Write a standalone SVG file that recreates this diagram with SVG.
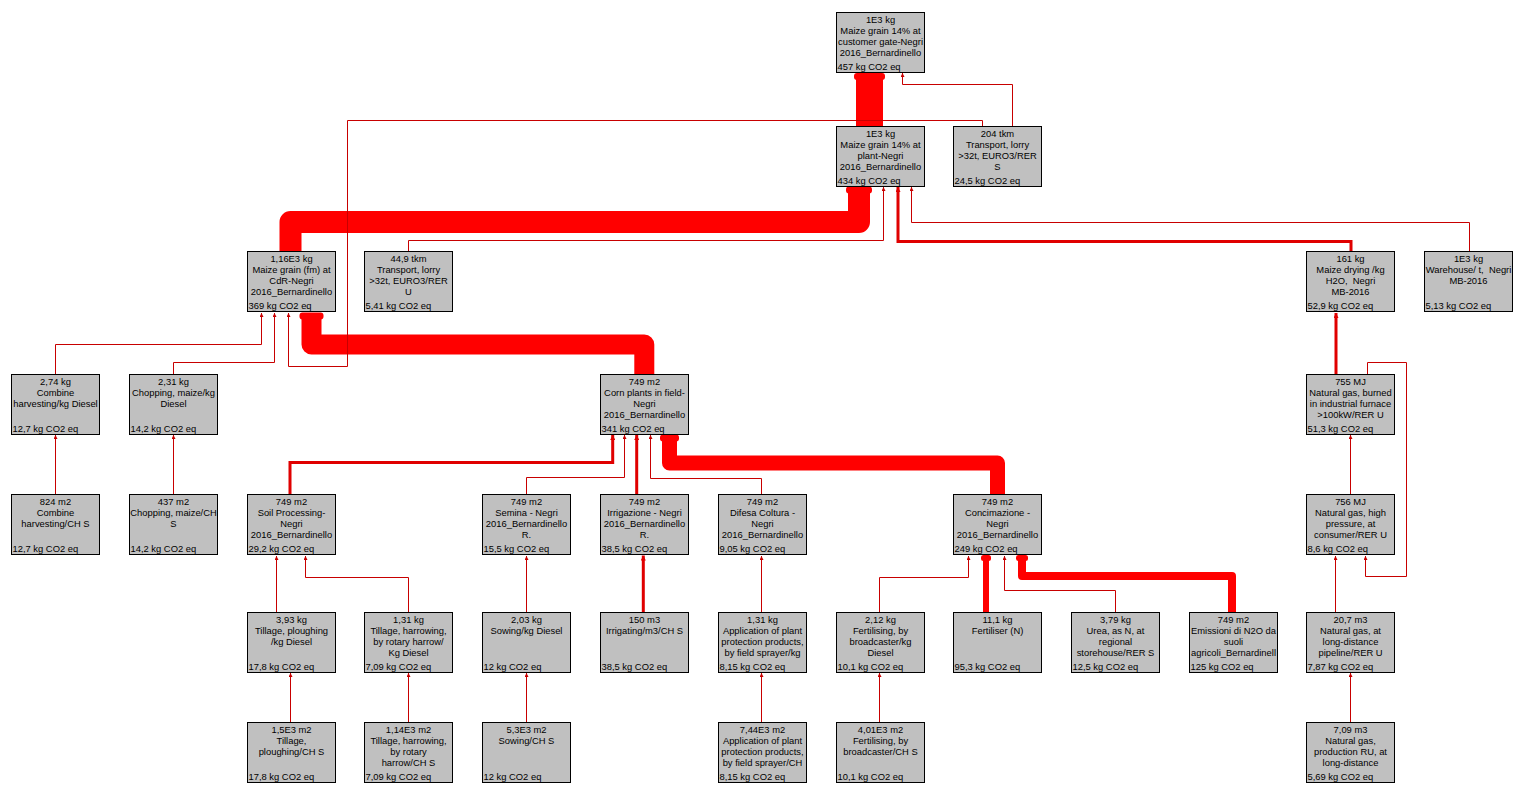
<svg xmlns="http://www.w3.org/2000/svg" width="1525" height="806" viewBox="0 0 1525 806">
<defs>
<style>
.bg{fill:#ffffff}
.box{fill:#c0c0c0;stroke:#000000;stroke-width:1}
text{font-family:"Liberation Sans",Arial,sans-serif;font-size:9.4px;fill:#000000}
.c{text-anchor:middle}
.v{text-anchor:start}
.thin{fill:none;stroke:#c80000;stroke-width:1;marker-end:url(#arr)}
.med{fill:none;stroke:#e00000;stroke-width:3;marker-end:url(#arr2)}
.thick{fill:none;stroke:#ff0000;stroke-linejoin:round}
.cap{fill:#ff0000}
</style>
<marker id="arr" viewBox="0 0 4 4" refX="4" refY="2" markerWidth="4" markerHeight="4" markerUnits="userSpaceOnUse" orient="auto">
<path d="M0,0 L4,2 L0,4 Z" fill="#c80000"/>
</marker>
<marker id="arr2" viewBox="0 0 5 5" refX="5" refY="2.5" markerWidth="5" markerHeight="5" markerUnits="userSpaceOnUse" orient="auto">
<path d="M0,0 L5,2.5 L0,5 Z" fill="#e00000"/>
</marker>
</defs>
<rect class="bg" x="0" y="0" width="1525" height="806"/>

<g id="connectors">
<!-- thick -->
<path class="thick" stroke-width="27" d="M869.5,126 V78"/>
<rect class="cap" x="854" y="73" width="31" height="7" rx="3"/>
<path class="thick" stroke-width="22" d="M290.5,251 V222 H859 V191"/>
<rect class="cap" x="846" y="186.5" width="26" height="7" rx="3"/>
<path class="thick" stroke-width="20" d="M644.3,374 V344.5 H311.5 V317"/>
<rect class="cap" x="299.5" y="312.5" width="24" height="7" rx="3"/>
<path class="thick" stroke-width="15" d="M997.5,494 V463 H669.5 V439"/>
<rect class="cap" x="660" y="434.5" width="19" height="7" rx="3"/>
<path class="thick" stroke-width="8" d="M1232,612 V576 H1022 V559"/>
<rect class="cap" x="1016" y="555" width="12" height="6" rx="2.5"/>
<path class="thick" stroke-width="6" d="M986,612 V559"/>
<rect class="cap" x="981" y="555" width="10" height="6" rx="2.5"/>
<!-- medium -->
<path class="med" d="M1351,251 V241.5 H898 V187"/>
<path class="med" d="M290,494 V462.5 H612.7 V435"/>
<path class="med" d="M636.7,494 V435"/>
<path class="med" d="M643.3,612 V555.5"/>
<path class="med" d="M1336,374 V313"/>
<!-- thin -->
<path class="thin" d="M1012.5,126 V84.5 H902.5 V73"/>
<path class="thin" d="M408.5,251 V240.5 H883.5 V187"/>
<path class="thin" d="M1469.5,251 V222.5 H911.5 V187"/>
<path class="thin" d="M982.5,126 V120.5 H347.5 V366.5 H288.5 V313"/>
<path class="thin" d="M55.5,374 V344.5 H261.5 V313"/>
<path class="thin" d="M173.5,374 V362.5 H274.5 V313"/>
<path class="thin" d="M526.5,494 V477.5 H624.5 V435"/>
<path class="thin" d="M761.5,494 V478.5 H650.5 V435"/>
<path class="thin" d="M55.5,494 V435"/>
<path class="thin" d="M173.5,494 V435"/>
<path class="thin" d="M276.5,612 V556"/>
<path class="thin" d="M408.5,612 V577.5 H305.5 V556"/>
<path class="thin" d="M290.5,722 V673"/>
<path class="thin" d="M408.5,722 V673"/>
<path class="thin" d="M526.5,612 V556"/>
<path class="thin" d="M526.5,722 V673"/>
<path class="thin" d="M761.5,612 V556"/>
<path class="thin" d="M761.5,722 V673"/>
<path class="thin" d="M879.5,612 V577.5 H968.5 V556"/>
<path class="thin" d="M879.5,722 V673"/>
<path class="thin" d="M1115.5,612 V590.5 H1004.5 V556"/>
<path class="thin" d="M1350.5,494 V435"/>
<path class="thin" d="M1367.5,374 V362.5 H1406.5 V576.5 H1365.5 V556"/>
<path class="thin" d="M1335.5,612 V556"/>
<path class="thin" d="M1350.5,722 V673"/>
</g>

<g id="n1" transform="translate(836.5,12.5)"><rect class="box" width="88" height="60"/><text class="c" x="44" y="10">1E3 kg</text><text class="c" x="44" y="21">Maize grain 14% at</text><text class="c" x="44" y="32">customer gate-Negri</text><text class="c" x="44" y="43">2016_Bernardinello</text><text class="v" x="1" y="57">457 kg CO2 eq</text></g>
<g id="n2" transform="translate(836.5,126.5)"><rect class="box" width="88" height="60"/><text class="c" x="44" y="10">1E3 kg</text><text class="c" x="44" y="21">Maize grain 14% at</text><text class="c" x="44" y="32">plant-Negri</text><text class="c" x="44" y="43">2016_Bernardinello</text><text class="v" x="1" y="57">434 kg CO2 eq</text></g>
<g id="n3" transform="translate(953.5,126.5)"><rect class="box" width="88" height="60"/><text class="c" x="44" y="10">204 tkm</text><text class="c" x="44" y="21">Transport, lorry</text><text class="c" x="44" y="32">&gt;32t, EURO3/RER</text><text class="c" x="44" y="43">S</text><text class="v" x="1" y="57">24,5 kg CO2 eq</text></g>
<g id="n4" transform="translate(247.5,251.5)"><rect class="box" width="88" height="60"/><text class="c" x="44" y="10">1,16E3 kg</text><text class="c" x="44" y="21">Maize grain (fm) at</text><text class="c" x="44" y="32">CdR-Negri</text><text class="c" x="44" y="43">2016_Bernardinello</text><text class="v" x="1" y="57">369 kg CO2 eq</text></g>
<g id="n5" transform="translate(364.5,251.5)"><rect class="box" width="88" height="60"/><text class="c" x="44" y="10">44,9 tkm</text><text class="c" x="44" y="21">Transport, lorry</text><text class="c" x="44" y="32">&gt;32t, EURO3/RER</text><text class="c" x="44" y="43">U</text><text class="v" x="1" y="57">5,41 kg CO2 eq</text></g>
<g id="n6" transform="translate(1306.5,251.5)"><rect class="box" width="88" height="60"/><text class="c" x="44" y="10">161 kg</text><text class="c" x="44" y="21">Maize drying /kg</text><text class="c" x="44" y="32" xml:space="preserve">H2O,  Negri</text><text class="c" x="44" y="43">MB-2016</text><text class="v" x="1" y="57">52,9 kg CO2 eq</text></g>
<g id="n7" transform="translate(1424.5,251.5)"><rect class="box" width="88" height="60"/><text class="c" x="44" y="10">1E3 kg</text><text class="c" x="44" y="21" xml:space="preserve">Warehouse/ t,  Negri</text><text class="c" x="44" y="32">MB-2016</text><text class="v" x="1" y="57">5,13 kg CO2 eq</text></g>
<g id="n8" transform="translate(11.5,374.5)"><rect class="box" width="88" height="60"/><text class="c" x="44" y="10">2,74 kg</text><text class="c" x="44" y="21">Combine</text><text class="c" x="44" y="32">harvesting/kg Diesel</text><text class="v" x="1" y="57">12,7 kg CO2 eq</text></g>
<g id="n9" transform="translate(129.5,374.5)"><rect class="box" width="88" height="60"/><text class="c" x="44" y="10">2,31 kg</text><text class="c" x="44" y="21">Chopping, maize/kg</text><text class="c" x="44" y="32">Diesel</text><text class="v" x="1" y="57">14,2 kg CO2 eq</text></g>
<g id="n10" transform="translate(600.5,374.5)"><rect class="box" width="88" height="60"/><text class="c" x="44" y="10">749 m2</text><text class="c" x="44" y="21">Corn plants in field-</text><text class="c" x="44" y="32">Negri</text><text class="c" x="44" y="43">2016_Bernardinello</text><text class="v" x="1" y="57">341 kg CO2 eq</text></g>
<g id="n11" transform="translate(1306.5,374.5)"><rect class="box" width="88" height="60"/><text class="c" x="44" y="10">755 MJ</text><text class="c" x="44" y="21">Natural gas, burned</text><text class="c" x="44" y="32">in industrial furnace</text><text class="c" x="44" y="43">&gt;100kW/RER U</text><text class="v" x="1" y="57">51,3 kg CO2 eq</text></g>
<g id="n12" transform="translate(11.5,494.5)"><rect class="box" width="88" height="60"/><text class="c" x="44" y="10">824 m2</text><text class="c" x="44" y="21">Combine</text><text class="c" x="44" y="32">harvesting/CH S</text><text class="v" x="1" y="57">12,7 kg CO2 eq</text></g>
<g id="n13" transform="translate(129.5,494.5)"><rect class="box" width="88" height="60"/><text class="c" x="44" y="10">437 m2</text><text class="c" x="44" y="21">Chopping, maize/CH</text><text class="c" x="44" y="32">S</text><text class="v" x="1" y="57">14,2 kg CO2 eq</text></g>
<g id="n14" transform="translate(247.5,494.5)"><rect class="box" width="88" height="60"/><text class="c" x="44" y="10">749 m2</text><text class="c" x="44" y="21">Soil Processing-</text><text class="c" x="44" y="32">Negri</text><text class="c" x="44" y="43">2016_Bernardinello</text><text class="v" x="1" y="57">29,2 kg CO2 eq</text></g>
<g id="n15" transform="translate(482.5,494.5)"><rect class="box" width="88" height="60"/><text class="c" x="44" y="10">749 m2</text><text class="c" x="44" y="21">Semina - Negri</text><text class="c" x="44" y="32">2016_Bernardinello</text><text class="c" x="44" y="43">R.</text><text class="v" x="1" y="57">15,5 kg CO2 eq</text></g>
<g id="n16" transform="translate(600.5,494.5)"><rect class="box" width="88" height="60"/><text class="c" x="44" y="10">749 m2</text><text class="c" x="44" y="21">Irrigazione - Negri</text><text class="c" x="44" y="32">2016_Bernardinello</text><text class="c" x="44" y="43">R.</text><text class="v" x="1" y="57">38,5 kg CO2 eq</text></g>
<g id="n17" transform="translate(718.5,494.5)"><rect class="box" width="88" height="60"/><text class="c" x="44" y="10">749 m2</text><text class="c" x="44" y="21">Difesa Coltura -</text><text class="c" x="44" y="32">Negri</text><text class="c" x="44" y="43">2016_Bernardinello</text><text class="v" x="1" y="57">9,05 kg CO2 eq</text></g>
<g id="n18" transform="translate(953.5,494.5)"><rect class="box" width="88" height="60"/><text class="c" x="44" y="10">749 m2</text><text class="c" x="44" y="21">Concimazione -</text><text class="c" x="44" y="32">Negri</text><text class="c" x="44" y="43">2016_Bernardinello</text><text class="v" x="1" y="57">249 kg CO2 eq</text></g>
<g id="n19" transform="translate(1306.5,494.5)"><rect class="box" width="88" height="60"/><text class="c" x="44" y="10">756 MJ</text><text class="c" x="44" y="21">Natural gas, high</text><text class="c" x="44" y="32">pressure, at</text><text class="c" x="44" y="43">consumer/RER U</text><text class="v" x="1" y="57">8,6 kg CO2 eq</text></g>
<g id="n20" transform="translate(247.5,612.5)"><rect class="box" width="88" height="60"/><text class="c" x="44" y="10">3,93 kg</text><text class="c" x="44" y="21">Tillage, ploughing</text><text class="c" x="44" y="32">/kg Diesel</text><text class="v" x="1" y="57">17,8 kg CO2 eq</text></g>
<g id="n21" transform="translate(364.5,612.5)"><rect class="box" width="88" height="60"/><text class="c" x="44" y="10">1,31 kg</text><text class="c" x="44" y="21">Tillage, harrowing,</text><text class="c" x="44" y="32">by rotary harrow/</text><text class="c" x="44" y="43">Kg Diesel</text><text class="v" x="1" y="57">7,09 kg CO2 eq</text></g>
<g id="n22" transform="translate(482.5,612.5)"><rect class="box" width="88" height="60"/><text class="c" x="44" y="10">2,03 kg</text><text class="c" x="44" y="21">Sowing/kg Diesel</text><text class="v" x="1" y="57">12 kg CO2 eq</text></g>
<g id="n23" transform="translate(600.5,612.5)"><rect class="box" width="88" height="60"/><text class="c" x="44" y="10">150 m3</text><text class="c" x="44" y="21">Irrigating/m3/CH S</text><text class="v" x="1" y="57">38,5 kg CO2 eq</text></g>
<g id="n24" transform="translate(718.5,612.5)"><rect class="box" width="88" height="60"/><text class="c" x="44" y="10">1,31 kg</text><text class="c" x="44" y="21">Application of plant</text><text class="c" x="44" y="32">protection products,</text><text class="c" x="44" y="43">by field sprayer/kg</text><text class="v" x="1" y="57">8,15 kg CO2 eq</text></g>
<g id="n25" transform="translate(836.5,612.5)"><rect class="box" width="88" height="60"/><text class="c" x="44" y="10">2,12 kg</text><text class="c" x="44" y="21">Fertilising, by</text><text class="c" x="44" y="32">broadcaster/kg</text><text class="c" x="44" y="43">Diesel</text><text class="v" x="1" y="57">10,1 kg CO2 eq</text></g>
<g id="n26" transform="translate(953.5,612.5)"><rect class="box" width="88" height="60"/><text class="c" x="44" y="10">11,1 kg</text><text class="c" x="44" y="21">Fertiliser (N)</text><text class="v" x="1" y="57">95,3 kg CO2 eq</text></g>
<g id="n27" transform="translate(1071.5,612.5)"><rect class="box" width="88" height="60"/><text class="c" x="44" y="10">3,79 kg</text><text class="c" x="44" y="21">Urea, as N, at</text><text class="c" x="44" y="32">regional</text><text class="c" x="44" y="43">storehouse/RER S</text><text class="v" x="1" y="57">12,5 kg CO2 eq</text></g>
<g id="n28" transform="translate(1189.5,612.5)"><rect class="box" width="88" height="60"/><text class="c" x="44" y="10">749 m2</text><text class="c" x="44" y="21">Emissioni di N2O da</text><text class="c" x="44" y="32">suoli</text><text class="c" x="44" y="43">agricoli_Bernardinell</text><text class="v" x="1" y="57">125 kg CO2 eq</text></g>
<g id="n29" transform="translate(1306.5,612.5)"><rect class="box" width="88" height="60"/><text class="c" x="44" y="10">20,7 m3</text><text class="c" x="44" y="21">Natural gas, at</text><text class="c" x="44" y="32">long-distance</text><text class="c" x="44" y="43">pipeline/RER U</text><text class="v" x="1" y="57">7,87 kg CO2 eq</text></g>
<g id="n30" transform="translate(247.5,722.5)"><rect class="box" width="88" height="60"/><text class="c" x="44" y="10">1,5E3 m2</text><text class="c" x="44" y="21">Tillage,</text><text class="c" x="44" y="32">ploughing/CH S</text><text class="v" x="1" y="57">17,8 kg CO2 eq</text></g>
<g id="n31" transform="translate(364.5,722.5)"><rect class="box" width="88" height="60"/><text class="c" x="44" y="10">1,14E3 m2</text><text class="c" x="44" y="21">Tillage, harrowing,</text><text class="c" x="44" y="32">by rotary</text><text class="c" x="44" y="43">harrow/CH S</text><text class="v" x="1" y="57">7,09 kg CO2 eq</text></g>
<g id="n32" transform="translate(482.5,722.5)"><rect class="box" width="88" height="60"/><text class="c" x="44" y="10">5,3E3 m2</text><text class="c" x="44" y="21">Sowing/CH S</text><text class="v" x="1" y="57">12 kg CO2 eq</text></g>
<g id="n33" transform="translate(718.5,722.5)"><rect class="box" width="88" height="60"/><text class="c" x="44" y="10">7,44E3 m2</text><text class="c" x="44" y="21">Application of plant</text><text class="c" x="44" y="32">protection products,</text><text class="c" x="44" y="43">by field sprayer/CH</text><text class="v" x="1" y="57">8,15 kg CO2 eq</text></g>
<g id="n34" transform="translate(836.5,722.5)"><rect class="box" width="88" height="60"/><text class="c" x="44" y="10">4,01E3 m2</text><text class="c" x="44" y="21">Fertilising, by</text><text class="c" x="44" y="32">broadcaster/CH S</text><text class="v" x="1" y="57">10,1 kg CO2 eq</text></g>
<g id="n35" transform="translate(1306.5,722.5)"><rect class="box" width="88" height="60"/><text class="c" x="44" y="10">7,09 m3</text><text class="c" x="44" y="21">Natural gas,</text><text class="c" x="44" y="32">production RU, at</text><text class="c" x="44" y="43">long-distance</text><text class="v" x="1" y="57">5,69 kg CO2 eq</text></g>
</svg>
